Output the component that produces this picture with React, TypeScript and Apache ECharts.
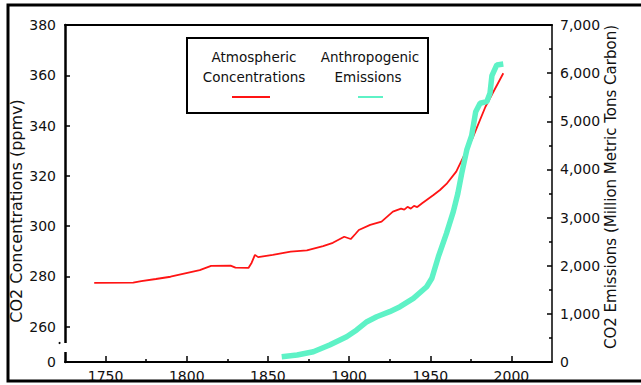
import React, { useEffect, useRef } from 'react';
import * as echarts from 'echarts';

// Atmospheric CO2 concentration (ppmv), left axis
const concYears = [1743, 1767, 1772, 1781, 1790, 1799, 1808, 1815, 1827, 1830, 1838, 1840, 1842, 1844, 1853, 1864, 1874, 1884, 1890, 1897, 1901, 1904, 1906, 1913, 1920, 1927, 1932, 1934, 1936, 1938, 1940, 1942, 1945, 1952, 1956, 1960, 1966, 1976, 1984, 1995];
const concValues = [277.5, 277.6, 278.2, 279.0, 279.9, 281.2, 282.5, 284.2, 284.3, 283.5, 283.4, 285.5, 288.6, 287.7, 288.6, 289.9, 290.4, 292.1, 293.4, 295.8, 294.9, 297.0, 298.5, 300.5, 301.8, 305.8, 307.0, 306.6, 307.7, 307.0, 308.1, 307.6, 309.1, 312.4, 314.4, 316.8, 321.7, 334.9, 347.5, 360.8];

// Anthropogenic CO2 emissions (million metric tons carbon), right axis
const emisYears = [1858.5, 1868, 1878, 1888, 1898.5, 1904.7, 1911, 1917, 1925, 1931.4, 1939.6, 1947.8, 1951, 1955, 1960, 1964.2, 1967, 1969.4, 1972.5, 1975.5, 1978, 1980.7, 1984.8, 1986.8, 1988, 1991, 1995];
const emisValues = [110, 145, 214, 353, 526, 665, 837, 941, 1045, 1149, 1323, 1564, 1739, 2187, 2673, 3122, 3500, 3920, 4404, 4700, 5200, 5374, 5407, 5582, 5950, 6170, 6190];

const yearTicks = [1750, 1800, 1850, 1900, 1950, 2000];
const yearMinorTicks = [1775, 1825, 1875, 1925, 1975];
const concTicks = [260, 280, 300, 320, 340, 360, 380];
const concBreakValue = 246; // bottom of broken axis, labelled "0"
const concMax = 380;
const emisMax = 7000;
const emisStep = 1000;

const leftTitle = 'CO2 Concentrations (ppmv)';
const rightTitle = 'CO2 Emissions (Million Metric Tons Carbon)';
const legendConc = ['Atmospheric', 'Concentrations'];
const legendEmis = ['Anthropogenic', 'Emissions'];

const FONT = '"DejaVu Sans", sans-serif';
const RED = '#ff1414';
const TEAL = '#5ef2c6';

export default function App() {
  const ref = useRef<HTMLDivElement>(null);

  useEffect(() => {
    if (!ref.current) return;
    const chart = echarts.init(ref.current, null, { renderer: 'svg' });

    const concData = concYears.map((y, i) => [y, concValues[i]]);
    const emisData = emisYears.map((y, i) => [y, emisValues[i]]);

    const option: any = {
      animation: false,
      backgroundColor: '#ffffff',
      grid: { left: 65, right: 89, top: 25, bottom: 23 },
      xAxis: [
        {
          type: 'value',
          min: 1725,
          max: 2025,
          position: 'bottom',
          axisLine: { show: true, onZero: false, lineStyle: { color: '#000', width: 2 } },
          axisTick: { show: true, inside: true, length: 6, customValues: yearTicks, lineStyle: { color: '#000', width: 1.5 } },
          axisLabel: {
            show: true,
            customValues: yearTicks,
            formatter: (v: number) => String(v),
            margin: 7,
            color: '#111',
            fontSize: 14,
            fontFamily: FONT,
          },
          splitLine: { show: false },
        },
        {
          type: 'value',
          min: 1725,
          max: 2025,
          position: 'bottom',
          axisLine: { show: false, onZero: false },
          axisTick: { show: true, inside: true, length: 3, customValues: yearMinorTicks, lineStyle: { color: '#000', width: 1.5 } },
          axisLabel: { show: false },
          splitLine: { show: false },
        },
        {
          type: 'value',
          min: 1725,
          max: 2025,
          position: 'top',
          axisLine: { show: true, onZero: false, lineStyle: { color: '#000', width: 2 } },
          axisTick: { show: false },
          axisLabel: { show: false },
          splitLine: { show: false },
        },
      ],
      yAxis: [
        {
          type: 'value',
          min: concBreakValue,
          max: concMax,
          position: 'left',
          axisLine: { show: true, onZero: false, lineStyle: { color: '#000', width: 2.5 } },
          axisTick: { show: true, inside: true, length: 5, customValues: concTicks, lineStyle: { color: '#000', width: 1.5 } },
          axisLabel: {
            show: true,
            customValues: [concBreakValue, ...concTicks],
            formatter: (v: number) => (v === concBreakValue ? '0' : String(v)),
            margin: 9,
            color: '#111',
            fontSize: 14,
            fontFamily: FONT,
          },
          splitLine: { show: false },
        },
        {
          type: 'value',
          min: 0,
          max: emisMax,
          interval: emisStep,
          position: 'right',
          axisLine: { show: true, onZero: false, lineStyle: { color: '#000', width: 1.5 } },
          axisTick: { show: true, inside: true, length: 5, lineStyle: { color: '#000', width: 1.5 } },
          minorTick: { show: true, splitNumber: 2, length: 3, lineStyle: { color: '#000', width: 1.5 } },
          axisLabel: {
            show: true,
            formatter: (v: number) => v.toLocaleString('en-US'),
            margin: 8,
            color: '#111',
            fontSize: 14,
            fontFamily: FONT,
          },
          splitLine: { show: false },
          minorSplitLine: { show: false },
        },
      ],
      series: [
        {
          name: 'Atmospheric Concentrations',
          type: 'line',
          xAxisIndex: 0,
          yAxisIndex: 0,
          data: concData,
          showSymbol: false,
          symbol: 'none',
          lineStyle: { color: RED, width: 1.8 },
          z: 2,
        },
        {
          name: 'Anthropogenic Emissions',
          type: 'line',
          xAxisIndex: 0,
          yAxisIndex: 1,
          data: emisData,
          showSymbol: false,
          symbol: 'none',
          lineStyle: { color: TEAL, width: 5.5 },
          z: 3,
        },
      ],
      graphic: [
        // legend box
        { type: 'rect', z: 20, shape: { x: 187, y: 38, width: 241, height: 75 }, style: { fill: '#fff', stroke: '#000', lineWidth: 2 } },
        { type: 'text', z: 21, x: 254, y: 57, style: { text: legendConc[0], align: 'center', verticalAlign: 'middle', fontSize: 13.5, fontFamily: FONT, fill: '#111' } },
        { type: 'text', z: 21, x: 254, y: 77, style: { text: legendConc[1], align: 'center', verticalAlign: 'middle', fontSize: 13.5, fontFamily: FONT, fill: '#111' } },
        { type: 'text', z: 21, x: 370, y: 57, style: { text: legendEmis[0], align: 'center', verticalAlign: 'middle', fontSize: 13.5, fontFamily: FONT, fill: '#111' } },
        { type: 'text', z: 21, x: 368, y: 77, style: { text: legendEmis[1], align: 'center', verticalAlign: 'middle', fontSize: 13.5, fontFamily: FONT, fill: '#111' } },
        { type: 'line', z: 21, shape: { x1: 232, y1: 97, x2: 270, y2: 97 }, style: { stroke: RED, lineWidth: 2 } },
        { type: 'line', z: 21, shape: { x1: 358, y1: 97, x2: 383, y2: 97 }, style: { stroke: TEAL, lineWidth: 2 } },
        // axis titles
        { type: 'text', z: 21, x: 16, y: 211, rotation: Math.PI / 2, style: { text: leftTitle, align: 'center', verticalAlign: 'middle', fontSize: 16, fontFamily: FONT, fill: '#111' } },
        { type: 'text', z: 21, x: 611, y: 187, rotation: Math.PI / 2, style: { text: rightTitle, align: 'center', verticalAlign: 'middle', fontSize: 15, fontFamily: FONT, fill: '#111' } },
        // broken left axis
        { type: 'rect', z: 30, shape: { x: 61, y: 343, width: 8, height: 9 }, style: { fill: '#fff' } },
        { type: 'circle', z: 31, shape: { cx: 59.5, cy: 343, r: 1 }, style: { fill: '#000' } },
        // image frame
        { type: 'rect', z: 100, shape: { x: 8, y: 5, width: 640, height: 376 }, style: { fill: 'none', stroke: '#000', lineWidth: 3 } },
      ],
    };

    chart.setOption(option);
    return () => chart.dispose();
  }, []);

  return (
    <div
      ref={ref}
      style={{ position: 'fixed', left: 0, top: 0, width: 641, height: 385, background: '#fff' }}
    />
  );
}
